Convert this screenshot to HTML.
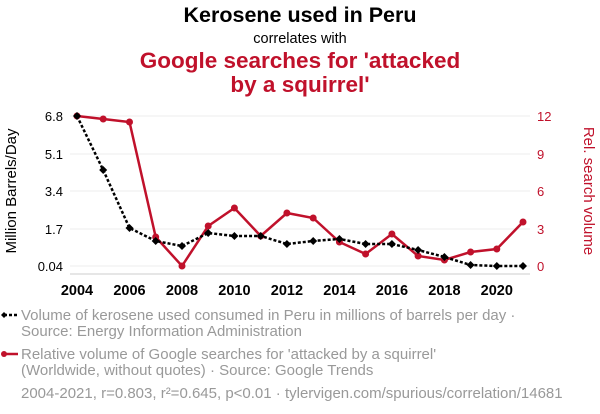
<!DOCTYPE html>
<html><head><meta charset="utf-8"><style>
body{margin:0;background:#fff;width:600px;height:414px;overflow:hidden}
svg{display:block;font-family:"Liberation Sans",Arial,sans-serif}
</style></head><body>
<svg width="600" height="414" viewBox="0 0 600 414">
<text x="300" y="22" text-anchor="middle" font-size="21.5" font-weight="bold" fill="#000">Kerosene used in Peru</text>
<text x="300" y="43" text-anchor="middle" font-size="14.5" fill="#000">correlates with</text>
<text x="300" y="68" text-anchor="middle" font-size="22.5" font-weight="bold" fill="#c0112b">Google searches for 'attacked</text>
<text x="300" y="92" text-anchor="middle" font-size="22.5" font-weight="bold" fill="#c0112b">by a squirrel'</text>
<g stroke="#eee" stroke-width="1">
<line x1="70" y1="116" x2="530" y2="116"/><line x1="70" y1="154" x2="530" y2="154"/>
<line x1="70" y1="191" x2="530" y2="191"/><line x1="70" y1="229" x2="530" y2="229"/>
<line x1="70" y1="266" x2="530" y2="266"/>
</g>
<line x1="70" y1="274" x2="530" y2="274" stroke="#ccc"/>
<g font-size="13" fill="#000" text-anchor="end">
<text x="63" y="121">6.8</text><text x="63" y="159">5.1</text><text x="63" y="196">3.4</text><text x="63" y="234">1.7</text><text x="63" y="271">0.04</text>
</g>
<g font-size="13" fill="#c0112b" text-anchor="start">
<text x="537" y="121">12</text><text x="537" y="159">9</text><text x="537" y="196">6</text><text x="537" y="234">3</text><text x="537" y="271">0</text>
</g>
<g font-size="14.5" font-weight="bold" fill="#000" text-anchor="middle">
<text x="77" y="295">2004</text><text x="129.5" y="295">2006</text><text x="182" y="295">2008</text><text x="234.4" y="295">2010</text><text x="286.9" y="295">2012</text><text x="339.4" y="295">2014</text><text x="391.9" y="295">2016</text><text x="444.4" y="295">2018</text><text x="496.8" y="295">2020</text>
</g>
<text transform="translate(16,191) rotate(-90)" text-anchor="middle" font-size="15" fill="#000">Million Barrels/Day</text>
<text transform="translate(584,191) rotate(90)" text-anchor="middle" font-size="15" fill="#c0112b">Rel. search volume</text>
<polyline fill="none" stroke="#c0112b" stroke-width="2.5" points="77,116 103.2,119 129.5,122 155.7,237 182,266 208.2,226 234.4,208 260.7,236 286.9,213 313.2,218 339.4,242 365.6,254 391.9,234 418.1,256 444.4,260 470.6,252 496.8,249 523,222"/>
<g fill="#c0112b">
<circle cx="77" cy="116" r="3.5"/><circle cx="103.2" cy="119" r="3.5"/><circle cx="129.5" cy="122" r="3.5"/><circle cx="155.7" cy="237" r="3.5"/><circle cx="182" cy="266" r="3.5"/><circle cx="208.2" cy="226" r="3.5"/><circle cx="234.4" cy="208" r="3.5"/><circle cx="260.7" cy="236" r="3.5"/><circle cx="286.9" cy="213" r="3.5"/><circle cx="313.2" cy="218" r="3.5"/><circle cx="339.4" cy="242" r="3.5"/><circle cx="365.6" cy="254" r="3.5"/><circle cx="391.9" cy="234" r="3.5"/><circle cx="418.1" cy="256" r="3.5"/><circle cx="444.4" cy="260" r="3.5"/><circle cx="470.6" cy="252" r="3.5"/><circle cx="496.8" cy="249" r="3.5"/><circle cx="523" cy="222" r="3.5"/>
</g>
<polyline fill="none" stroke="#000" stroke-width="2.5" stroke-dasharray="3,2" points="77,116 103.2,170 129.5,228 155.7,241 182,246 208.2,233 234.4,236 260.7,236 286.9,244 313.2,241 339.4,239 365.6,244 391.9,244 418.1,250 444.4,257 470.6,265 496.8,266 523,266"/>
<g fill="#000">
<path d="M77,112l4,4l-4,4l-4,-4z"/><path d="M103.2,166l4,4l-4,4l-4,-4z"/><path d="M129.5,224l4,4l-4,4l-4,-4z"/><path d="M155.7,237l4,4l-4,4l-4,-4z"/><path d="M182,242l4,4l-4,4l-4,-4z"/><path d="M208.2,229l4,4l-4,4l-4,-4z"/><path d="M234.4,232l4,4l-4,4l-4,-4z"/><path d="M260.7,232l4,4l-4,4l-4,-4z"/><path d="M286.9,240l4,4l-4,4l-4,-4z"/><path d="M313.2,237l4,4l-4,4l-4,-4z"/><path d="M339.4,235l4,4l-4,4l-4,-4z"/><path d="M365.6,240l4,4l-4,4l-4,-4z"/><path d="M391.9,240l4,4l-4,4l-4,-4z"/><path d="M418.1,246l4,4l-4,4l-4,-4z"/><path d="M444.4,253l4,4l-4,4l-4,-4z"/><path d="M470.6,261l4,4l-4,4l-4,-4z"/><path d="M496.8,262l4,4l-4,4l-4,-4z"/><path d="M523,262l4,4l-4,4l-4,-4z"/>
</g>
<line x1="4" y1="315" x2="19" y2="315" stroke="#000" stroke-width="2.5" stroke-dasharray="3,2"/>
<path d="M4,312l3,3l-3,3l-3,-3z" fill="#000"/>
<line x1="4" y1="354" x2="18" y2="354" stroke="#c0112b" stroke-width="2.5"/>
<circle cx="4" cy="354" r="3" fill="#c0112b"/>
<g font-size="15" fill="#999">
<text x="21" y="320">Volume of kerosene used consumed in Peru in millions of barrels per day ·</text>
<text x="21" y="336">Source: Energy Information Administration</text>
<text x="21" y="359">Relative volume of Google searches for 'attacked by a squirrel'</text>
<text x="21" y="375">(Worldwide, without quotes) · Source: Google Trends</text>
<text x="21" y="398">2004-2021, r=0.803, r²=0.645, p&lt;0.01 · tylervigen.com/spurious/correlation/14681</text>
</g>
</svg>
</body></html>
